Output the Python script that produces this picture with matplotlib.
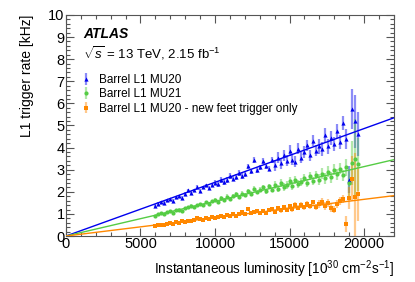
import matplotlib.pyplot as plt
from matplotlib.ticker import MultipleLocator

plt.rcParams['font.family'] = ['Liberation Sans', 'DejaVu Sans']
plt.rcParams['mathtext.fontset'] = 'custom'
plt.rcParams['mathtext.rm'] = 'Liberation Sans'
plt.rcParams['mathtext.it'] = 'Liberation Sans:italic'

# luminosity points (10^30 cm^-2 s^-1)
lumi = [6000 + 200 * i for i in range(69)]

mu20 = [1.38, 1.45, 1.52, 1.50, 1.62, 1.66, 1.60, 1.75, 1.80, 1.72,
        1.90, 2.08, 1.95, 2.08, 2.22, 2.05, 2.20, 2.30, 2.18, 2.32,
        2.42, 2.35, 2.55, 2.45, 2.52, 2.72, 2.60, 2.68, 2.85, 2.70,
        2.82, 3.15, 2.92, 3.45, 3.00, 3.10, 3.40, 3.15, 3.05, 3.45,
        3.20, 3.55, 3.30, 3.65, 3.40, 3.85, 3.45, 3.35, 3.95, 3.55,
        3.80, 4.10, 3.65, 4.30, 3.85, 4.05, 3.95, 4.55, 4.05, 4.45,
        4.15, 4.75, 4.25, 5.10, 4.40, 2.55, 5.75, 5.20, 4.60]
mu20_err = [0.07] * 20 + [0.13] * 20 + [0.25] * 15 + [0.32] * 9 + [0.45, 0.6, 0.9, 1.2, 1.0]

mu21 = [0.92, 0.98, 1.02, 1.00, 1.08, 1.12, 1.06, 1.18, 1.20, 1.15,
        1.26, 1.30, 1.38, 1.30, 1.42, 1.45, 1.40, 1.52, 1.46, 1.58,
        1.62, 1.55, 1.70, 1.62, 1.78, 1.68, 1.80, 1.90, 1.76, 1.92,
        1.85, 2.05, 1.92, 2.15, 2.00, 2.10, 2.20, 2.02, 2.25, 2.10,
        2.30, 2.15, 2.38, 2.20, 2.32, 2.50, 2.25, 2.55, 2.35, 2.45,
        2.62, 2.42, 2.70, 2.50, 2.78, 2.55, 2.82, 2.62, 2.90, 2.65,
        3.00, 2.80, 3.05, 2.75, 3.10, 2.40, 3.30, 3.50, 3.25]
mu21_err = [0.05] * 20 + [0.10] * 20 + [0.18] * 15 + [0.25] * 9 + [0.4, 0.6, 1.0, 1.8, 1.2]

feet = [0.45, 0.48, 0.52, 0.50, 0.55, 0.58, 0.54, 0.62, 0.60, 0.68,
        0.64, 0.70, 0.68, 0.74, 0.80, 0.76, 0.74, 0.82, 0.78, 0.86,
        0.82, 0.88, 0.92, 0.85, 0.95, 0.90, 0.98, 0.92, 1.00, 1.08,
        0.98, 1.22, 1.02, 1.08, 1.14, 1.04, 1.15, 1.06, 1.18, 1.24,
        1.10, 1.25, 1.16, 1.30, 1.20, 1.34, 1.22, 1.40, 1.28, 1.42,
        1.30, 1.45, 1.34, 1.52, 1.32, 1.46, 1.55, 1.36, 1.50, 1.28,
        1.20, 1.45, 1.58, 1.68, 0.55, 1.72, 2.60, 1.75, 1.90]
feet_err = [0.04] * 20 + [0.07] * 20 + [0.12] * 15 + [0.18] * 9 + [0.35, 0.5, 1.0, 2.0, 1.2]

# linear fits through the origin (kHz per unit luminosity)
fit_range = [0, 22000]
fit_slopes = [2.43e-4, 1.57e-4, 0.83e-4]

labels = ["Barrel L1 MU20", "Barrel L1 MU21", "Barrel L1 MU20 - new feet trigger only"]
colors = ["#0000ee", "#55cc44", "#ff8800"]
markers = ["^", "o", "s"]

fig = plt.figure(figsize=(4.15, 2.82), dpi=100)
ax = fig.add_axes([0.159, 0.163, 0.79, 0.784])

for y, err, slope, lab, c, m in zip([mu20, mu21, feet], [mu20_err, mu21_err, feet_err],
                                     fit_slopes, labels, colors, markers):
    eb = ax.errorbar(lumi, y, yerr=err, fmt=m, color=c, ms=3, mew=0,
                     elinewidth=1.6, ecolor=c, label=lab, zorder=3)
    eb[2][0].set_alpha(0.45)
    ax.plot(fit_range, [slope * v for v in fit_range], color=c, lw=1.0, zorder=4)

ax.set_xlim(0, 22000)
ax.set_ylim(0, 10)
ax.xaxis.set_major_locator(MultipleLocator(5000))
ax.xaxis.set_minor_locator(MultipleLocator(1000))
ax.yaxis.set_major_locator(MultipleLocator(1))
ax.yaxis.set_minor_locator(MultipleLocator(0.2))
ax.tick_params(which='both', direction='in', top=True, right=True, labelsize=10.5, pad=1)
ax.tick_params(which='major', length=6, width=0.8, color='#555555')
ax.tick_params(which='minor', length=3, width=0.8, color='#555555')
for s in ax.spines.values():
    s.set_color('#555555')

ax.set_xlabel(r"Instantaneous luminosity [10$^{30}$ cm$^{-2}$s$^{-1}$]", fontsize=9.8,
              loc='right', labelpad=5)
ax.set_ylabel("L1 trigger rate [kHz]", fontsize=10, loc='top', labelpad=10)

ax.text(0.052, 0.915, "ATLAS", transform=ax.transAxes, fontsize=10,
        fontweight='bold', fontstyle='italic', va='center')
ax.text(0.052, 0.828, r"$\sqrt{s}$ = 13 TeV, 2.15 fb$^{-1}$", transform=ax.transAxes,
        fontsize=9.5, va='center')

ax.legend(loc='upper left', bbox_to_anchor=(0.025, 0.76), frameon=False, fontsize=8.5,
          handlelength=1.0, handletextpad=0.6, labelspacing=0.2, borderpad=0)

fig.savefig("out.png", dpi=100)
